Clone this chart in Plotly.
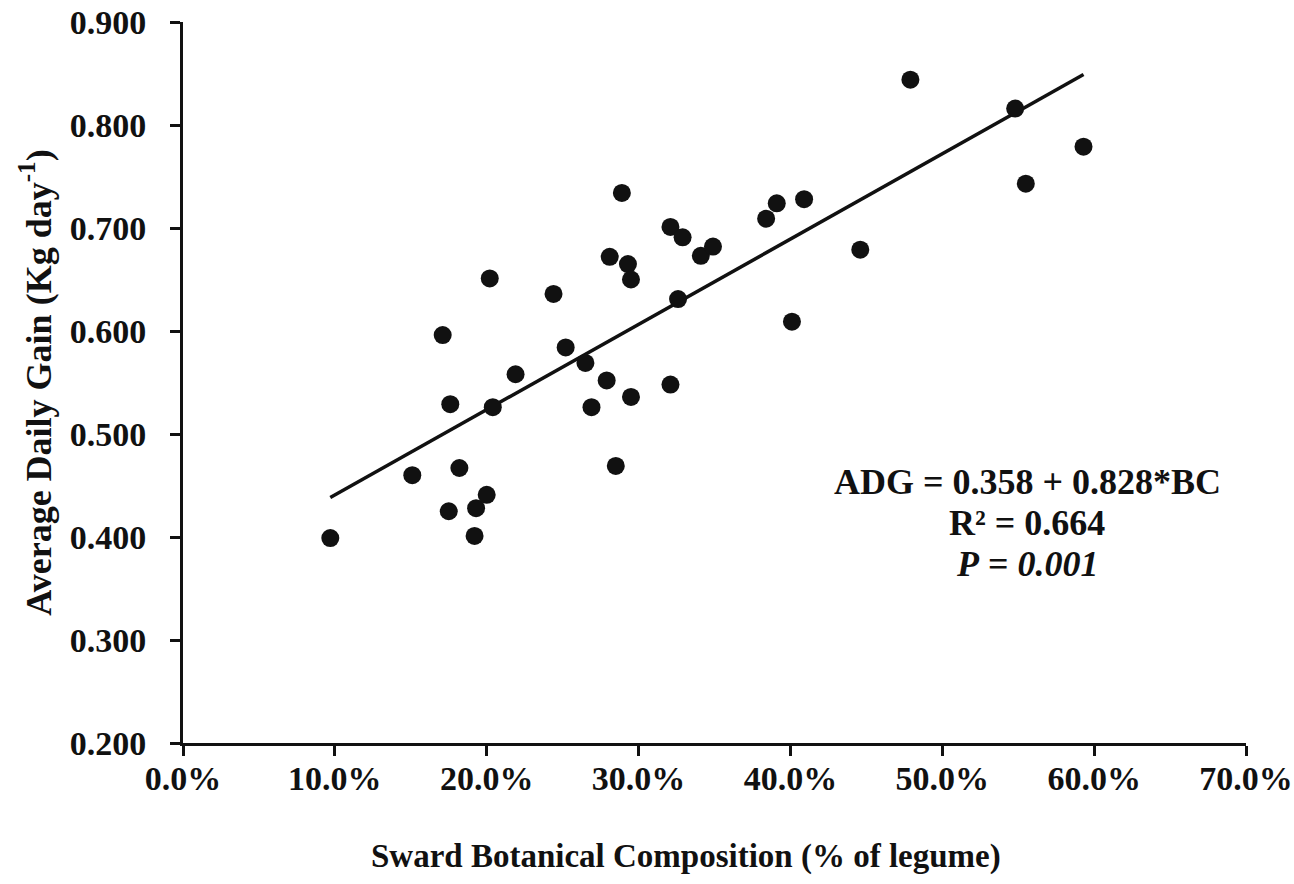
import plotly.graph_objects as go

# Sward botanical composition (fraction of legume) and average daily gain (kg/day)
bc = [0.097, 0.151, 0.175, 0.176, 0.171, 0.182, 0.193, 0.192, 0.200, 0.202,
      0.204, 0.219, 0.244, 0.252, 0.265, 0.269, 0.279, 0.281, 0.285, 0.289,
      0.293, 0.295, 0.295, 0.321, 0.321, 0.326, 0.329, 0.341, 0.349, 0.384,
      0.391, 0.401, 0.409, 0.446, 0.479, 0.548, 0.555, 0.593]
adg = [0.399, 0.460, 0.425, 0.529, 0.596, 0.467, 0.428, 0.401, 0.441, 0.651,
       0.526, 0.558, 0.636, 0.584, 0.569, 0.526, 0.552, 0.672, 0.469, 0.734,
       0.665, 0.650, 0.536, 0.701, 0.548, 0.631, 0.691, 0.673, 0.682, 0.709,
       0.724, 0.609, 0.728, 0.679, 0.844, 0.816, 0.743, 0.779]

intercept = 0.358
slope = 0.828
r2 = 0.664
p_value = "0.001"

x_ticks = [0.0, 0.1, 0.2, 0.3, 0.4, 0.5, 0.6, 0.7]
y_ticks = [0.2, 0.3, 0.4, 0.5, 0.6, 0.7, 0.8, 0.9]

x_title = "Sward Botanical Composition (% of legume)"
y_title = "Average Daily Gain (Kg day<sup>-1</sup>)"

stats_lines = [
    f"ADG = {intercept:.3f} + {slope:.3f}*BC",
    f"R² = {r2:.3f}",
    f"<i>P</i> = <i>{p_value}</i>",
]
stats_y = [0.453, 0.414, 0.374]

FONT = "Liberation Serif, Times New Roman, serif"
INK = "#111111"

fit_x = [min(bc), max(bc)]
fit_y = [intercept + slope * v for v in fit_x]

fig = go.Figure()
fig.add_trace(go.Scatter(x=fit_x, y=fit_y, mode="lines",
                         line=dict(color=INK, width=3.5), hoverinfo="skip"))
fig.add_trace(go.Scatter(x=bc, y=adg, mode="markers",
                         marker=dict(color=INK, size=18, line=dict(width=0))))

for txt, yy in zip(stats_lines, stats_y):
    fig.add_annotation(
        x=0.556, y=yy, xref="x", yref="y", showarrow=False,
        xanchor="center", yanchor="middle", align="center",
        text=txt,
        font=dict(family=FONT, size=36, color=INK, weight="bold"),
    )

# x-axis title (placed as annotation to match the reference's off-centre position)
fig.add_annotation(
    x=0.473, y=-0.157, xref="paper", yref="paper", showarrow=False,
    xanchor="center", yanchor="middle",
    text=x_title,
    font=dict(family=FONT, size=33, color=INK, weight="bold"),
)

fig.update_layout(
    width=1294, height=884,
    margin=dict(l=183, r=48, t=22, b=141, autoexpand=False),
    paper_bgcolor="white", plot_bgcolor="white",
    showlegend=False,
    font=dict(family=FONT, color=INK, weight="bold"),
)
fig.update_xaxes(
    range=[0, 0.7], tickvals=x_ticks, tickformat=".1%",
    automargin=False,
    showgrid=False, zeroline=False,
    showline=True, linecolor=INK, linewidth=3,
    ticks="outside", ticklen=10, tickwidth=3, tickcolor=INK,
    ticklabelstandoff=-7,
    tickfont=dict(family=FONT, size=34, color=INK, weight="bold"),
)
fig.update_yaxes(
    range=[0.2, 0.9], tickvals=y_ticks, tickformat=".3f",
    automargin=False,
    showgrid=False, zeroline=False,
    showline=True, linecolor=INK, linewidth=3,
    ticks="outside", ticklen=10, tickwidth=3, tickcolor=INK,
    ticklabelstandoff=17,
    tickfont=dict(family=FONT, size=34, color=INK, weight="bold"),
    title=dict(text=y_title,
               font=dict(family=FONT, size=36, color=INK, weight="bold"),
               standoff=8),
)

fig.write_html(
    "out.html",
    config={"displayModeBar": False},
    post_script="document.body.style.margin='0';document.body.style.overflow='hidden';",
)
